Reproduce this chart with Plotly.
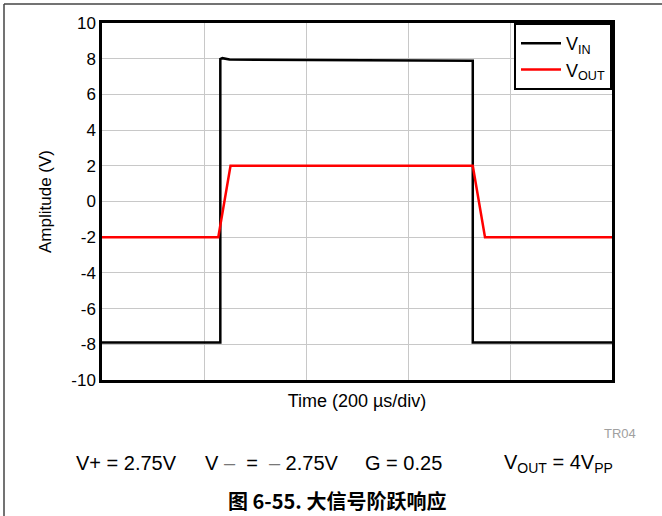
import plotly.graph_objects as go

# Large-signal step response, time in µs (200 µs/div)
t_in = [0, 232, 232, 236, 250, 400, 600, 727, 727, 1000]
v_in = [-7.9, -7.9, 7.98, 8.03, 7.95, 7.93, 7.9, 7.88, -7.9, -7.9]

t_out = [0, 228, 252, 727, 751, 1000]
v_out = [-2.0, -2.0, 2.0, 2.0, -2.0, -2.0]

y_ticks = [10, 8, 6, 4, 2, 0, -2, -4, -6, -8, -10]
y_labels = [str(v) for v in y_ticks]

FONT = 'Liberation Sans, Arial, sans-serif'

# plot area in pixels: x 102..612, y 23..380
W, H = 662, 516
L, R, T, B = 102, 50, 23, 136
PW, PH = W - L - R, H - T - B


def px(x):
    return (x - L) / PW


def py(y):
    return (H - B - y) / PH


def main():
    fig = go.Figure()

    fig.add_trace(go.Scatter(
        x=t_in, y=v_in, mode='lines', name='V<sub>IN</sub>',
        line=dict(color='black', width=2.5)
    ))
    fig.add_trace(go.Scatter(
        x=t_out, y=v_out, mode='lines', name='V<sub>OUT</sub>',
        line=dict(color='#ff0000', width=2.5)
    ))

    fig.update_xaxes(
        range=[0, 1000], tickvals=[0, 200, 400, 600, 800, 1000],
        showticklabels=False, ticks='',
        showgrid=True, gridcolor='#c8c8c8', gridwidth=1,
        showline=True, linecolor='black', linewidth=2.5, mirror=True,
        zeroline=False,
        title=dict(text='Time (200 µs/div)', font=dict(size=18, color='black'),
                   standoff=13)
    )
    fig.update_yaxes(
        range=[-10, 10], tickvals=y_ticks, ticktext=y_labels,
        ticks='', tickfont=dict(size=17, color='black'),
        showgrid=True, gridcolor='#c8c8c8', gridwidth=1,
        showline=True, linecolor='black', linewidth=2.5, mirror=True,
        zeroline=False,
        title=dict(text='Amplitude (V)', font=dict(size=17, color='black'),
                   standoff=16)
    )

    text_font = dict(size=20, color='black')
    dash = '<span style="color:#777">–</span>'
    fig.update_layout(
        width=W, height=H,
        margin=dict(l=L, r=R, t=T, b=B),
        plot_bgcolor='white', paper_bgcolor='white',
        font=dict(family=FONT, color='black'),
        showlegend=True,
        legend=dict(
            x=1, y=1, xanchor='right', yanchor='top',
            bgcolor='white', bordercolor='black', borderwidth=2,
            font=dict(size=18, color='black'),
            tracegroupgap=0, itemwidth=40
        ),
        shapes=[
            # outer frame lines of the page figure
            dict(type='line', xref='paper', yref='paper',
                 x0=px(4), x1=px(670), y0=py(4), y1=py(4),
                 line=dict(color='#444444', width=1.5)),
            dict(type='line', xref='paper', yref='paper',
                 x0=px(4), x1=px(4), y0=py(4), y1=py(530),
                 line=dict(color='#444444', width=1.5)),
        ],
        annotations=[
            dict(text='TR04', xref='paper', yref='paper', x=px(638), y=py(434),
                 xanchor='right', yanchor='middle', showarrow=False,
                 font=dict(size=13, color='#a0a0a0')),
            dict(text='V+ = 2.75V', xref='paper', yref='paper',
                 x=px(74), y=py(463), xanchor='left', yanchor='middle',
                 showarrow=False, font=text_font),
            dict(text=f'V {dash}  =  {dash} 2.75V',
                 xref='paper', yref='paper',
                 x=px(203), y=py(463), xanchor='left', yanchor='middle',
                 showarrow=False, font=text_font),
            dict(text='G = 0.25', xref='paper', yref='paper',
                 x=px(363), y=py(463), xanchor='left', yanchor='middle',
                 showarrow=False, font=text_font),
            dict(text='V<sub>OUT</sub> = 4V<sub>PP</sub>',
                 xref='paper', yref='paper',
                 x=px(502), y=py(463), xanchor='left', yanchor='middle',
                 showarrow=False, font=text_font),
            dict(text='<b>图 6-55. 大信号阶跃响应</b>',
                 xref='paper', yref='paper', x=px(337), y=py(500),
                 xanchor='center', yanchor='middle', showarrow=False,
                 font=dict(size=20, color='black',
                           family='Noto Sans CJK SC, Liberation Sans')),
        ]
    )

    # drop the default 8px page margin so the figure sits at the window origin
    fig.write_html('out.html', config={'displayModeBar': False},
                   post_script="document.body.style.margin='0';")
    return fig


if __name__ == '__main__':
    main()
